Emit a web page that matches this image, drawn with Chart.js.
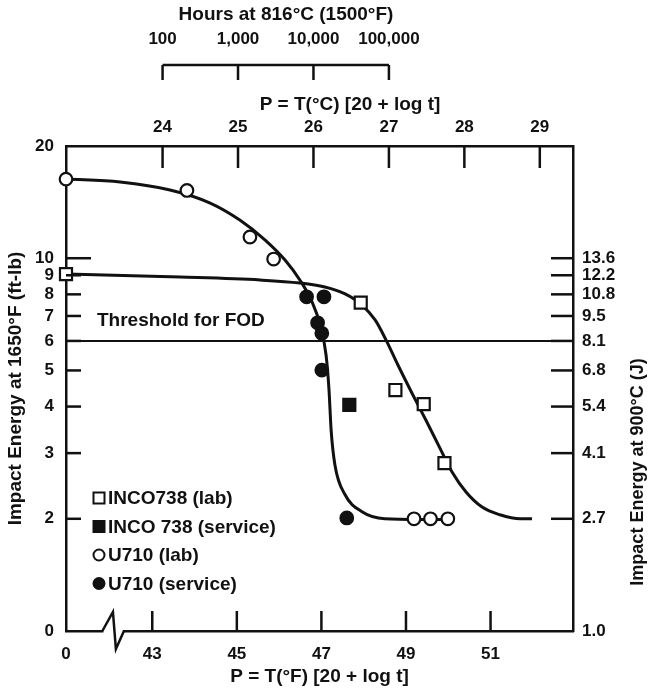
<!DOCTYPE html>
<html>
<head>
<meta charset="utf-8">
<script src="https://cdn.jsdelivr.net/npm/chart.js@4.4.1/dist/chart.umd.min.js"></script>
<style>
  html, body { margin: 0; padding: 0; background: #fff; }
  #wrap { width: 649px; height: 688px; }
</style>
</head>
<body>
<div id="wrap"><canvas id="chart" width="649" height="688"></canvas></div>
<script>
// impact energy vs Larson-Miller parameter, INCO 738 and U710

// broken bottom axis: the "0" sits at the left edge
const ZERO = 40.96;
const X_MAX = 52.95;
const C_MIN = 22.72;
const C_MAX = 29.44;

// tick values / labels
const xTicks = [ZERO, 43, 45, 47, 49, 51];
const xLabels = ["0", "43", "45", "47", "49", "51"];
const cTicks = [24, 25, 26, 27, 28, 29];
const hourTicks = [24, 25, 26, 27];
const hourLabels = ["100", "1,000", "10,000", "100,000"];
const ftlbTicks = [1, 2, 3, 4, 5, 6, 7, 8, 9, 10, 20];
const ftlbLabels = ["0", "2", "3", "4", "5", "6", "7", "8", "9", "10", "20"];
const jouleTicks = [1, 2, 3, 4, 5, 6, 7, 8, 9, 10];
const jouleLabels = ["1.0", "2.7", "4.1", "5.4", "6.8", "8.1", "9.5", "10.8", "12.2", "13.6"];

// measured points
const incoLabX = [ZERO, 47.93, 48.75, 49.42, 49.91];
const incoLabY = [9.06, 7.6, 4.43, 4.06, 2.82];
const incoSvcX = [47.66];
const incoSvcY = [4.04];
const u710LabX = [ZERO, 43.82, 45.31, 45.87, 49.19, 49.58, 49.99];
const u710LabY = [16.3, 15.2, 11.4, 9.95, 2.0, 2.0, 2.0];
const u710SvcX = [46.65, 47.06, 46.91, 47.01, 47.01, 47.6];
const u710SvcY = [7.88, 7.88, 6.71, 6.29, 5.01, 2.01];

// fitted curves
const u710CurveX = [ZERO, 42.24, 43.42, 44.37, 45.07, 45.67, 46.14, 46.49, 46.78, 46.97, 47.11, 47.18, 47.23, 47.32, 47.56, 47.96, 48.5, 49.33, 49.99];
const u710CurveY = [16.31, 16.01, 15.24, 14.06, 12.66, 11.19, 9.89, 8.74, 7.63, 6.62, 5.5, 4.43, 3.46, 2.79, 2.32, 2.09, 2.0, 1.99, 1.99];
const incoCurveX = [ZERO, 43.66, 45.55, 46.49, 47.08, 47.56, 47.96, 48.27, 48.53, 48.81, 49.14, 49.47, 49.8, 50.09, 50.42, 50.8, 51.22, 51.7, 51.98];
const incoCurveY = [9.07, 8.9, 8.74, 8.58, 8.37, 8.02, 7.49, 6.83, 6.03, 5.17, 4.35, 3.68, 3.1, 2.67, 2.36, 2.15, 2.05, 2.0, 2.0];

const FOD = 6;

const INK = "#111";
const FONT = "'Liberation Sans', Arial, sans-serif";
Chart.defaults.font.family = FONT;
Chart.defaults.font.weight = "bold";
Chart.defaults.font.size = 17;
Chart.defaults.color = INK;

const pts = (xs, ys) => xs.map((x, i) => ({ x: x, y: ys[i] }));

function marker(label, xs, ys, style, filled, r) {
  return {
    label: label,
    data: pts(xs, ys),
    pointStyle: style,
    pointRadius: r,
    pointBorderWidth: 2.2,
    pointBorderColor: INK,
    pointBackgroundColor: filled ? INK : "#fff",
    showLine: false,
    clip: false,
    order: 0,
    isMarker: true,
  };
}

function curve(xs, ys) {
  return {
    data: pts(xs, ys),
    showLine: true,
    pointRadius: 0,
    borderColor: INK,
    borderWidth: 3,
    cubicInterpolationMode: "monotone",
    order: 2,
  };
}

const datasets = [
  marker("INCO738 (lab)", incoLabX, incoLabY, "rect", false, 8.5),
  marker("INCO 738 (service)", incoSvcX, incoSvcY, "rect", true, 8.5),
  marker("U710 (lab)", u710LabX, u710LabY, "circle", false, 6.3),
  marker("U710 (service)", u710SvcX, u710SvcY, "circle", true, 6.3),
  curve(u710CurveX, u710CurveY),
  curve(incoCurveX, incoCurveY),
  {
    data: pts([ZERO, X_MAX], [FOD, FOD]),
    showLine: true,
    pointRadius: 0,
    borderColor: INK,
    borderWidth: 2,
    order: 3,
  },
];

const setTicks = (vals) => (s) => { s.ticks = vals.map((v) => ({ value: v })); };

// inner tick marks, hours bracket, axis break, legend, labels
const decor = {
  id: "decor",
  afterDraw(chart) {
    const { ctx, chartArea: ca, scales } = chart;
    const x = scales.x, xc = scales.xc, xh = scales.xh, y = scales.y;
    ctx.save();
    ctx.strokeStyle = INK;
    ctx.lineWidth = 2.5;
    ctx.lineCap = "butt";

    const seg = (x0, y0, x1, y1) => {
      ctx.beginPath(); ctx.moveTo(x0, y0); ctx.lineTo(x1, y1); ctx.stroke();
    };

    xTicks.slice(1).forEach((v) => {
      const p = x.getPixelForValue(v);
      seg(p, ca.bottom, p, ca.bottom - 20);
    });
    cTicks.forEach((v) => {
      const p = xc.getPixelForValue(v);
      seg(p, ca.top, p, ca.top + 22);
    });
    ftlbTicks.forEach((v) => {
      if (v <= 1 || v >= 20) return;
      const p = y.getPixelForValue(v);
      seg(ca.left, p, ca.left + (v === 10 ? 25 : 15), p);
    });
    jouleTicks.forEach((v) => {
      if (v <= 1) return;
      const p = y.getPixelForValue(v);
      seg(ca.right, p, ca.right - 22, p);
    });

    // hours bracket
    const hx0 = xh.getPixelForValue(hourTicks[0]);
    const hx1 = xh.getPixelForValue(hourTicks[hourTicks.length - 1]);
    seg(hx0, 65, hx1, 65);
    hourTicks.forEach((v) => {
      const p = xh.getPixelForValue(v);
      seg(p, 65, p, 80);
    });

    // axis break on the bottom axis
    const b0 = x.getPixelForValue(41.82), b1 = x.getPixelForValue(42.07);
    const b2 = x.getPixelForValue(42.14), b3 = x.getPixelForValue(42.33);
    ctx.fillStyle = "#fff";
    ctx.fillRect(b0 + 1, ca.bottom - 3, b3 - b0 - 2, 6);
    ctx.lineJoin = "miter";
    ctx.beginPath();
    ctx.moveTo(b0, ca.bottom);
    ctx.lineTo(b1, ca.bottom - 19);
    ctx.lineTo(b2, ca.bottom + 18);
    ctx.lineTo(b3, ca.bottom);
    ctx.stroke();

    // threshold label
    ctx.fillStyle = INK;
    ctx.font = "bold 19px " + FONT;
    ctx.textAlign = "left";
    ctx.textBaseline = "middle";
    ctx.fillText("Threshold for FOD", ca.left + 31, y.getPixelForValue(FOD) - 20);

    // legend inside the plot
    const items = chart.data.datasets.filter((d) => d.isMarker);
    ctx.font = "bold 19px " + FONT;
    items.forEach((d, i) => {
      const cy = ca.bottom - 133 + i * 28.5;
      const cx = ca.left + 33;
      ctx.lineWidth = 2;
      ctx.fillStyle = d.pointBackgroundColor;
      ctx.strokeStyle = INK;
      ctx.beginPath();
      if (d.pointStyle === "rect") {
        ctx.rect(cx - 5.5, cy - 5.5, 11, 11);
      } else {
        ctx.arc(cx, cy, 5.5, 0, Math.PI * 2);
      }
      ctx.fill();
      ctx.stroke();
      ctx.fillStyle = INK;
      ctx.fillText(d.label, cx + 9, cy + 1);
    });

    // the two upper titles are off-centre in the original
    ctx.font = "bold 19px " + FONT;
    ctx.textAlign = "center";
    ctx.fillText("Hours at 816°C (1500°F)", 286, 15);
    ctx.fillText("P = T(°C) [20 + log t]", 350, 105);

    // right axis title reads bottom-to-top like the left one
    ctx.font = "bold 18px " + FONT;
    ctx.translate(638, 472);
    ctx.rotate(-Math.PI / 2);
    ctx.fillText("Impact Energy at 900°C (J)", 0, 0);
    ctx.restore();
  },
};

const noGrid = { display: false, drawTicks: false };
const frame = { display: true, color: INK, width: 2.5 };

new Chart(document.getElementById("chart"), {
  type: "scatter",
  data: { datasets: datasets },
  options: {
    responsive: false,
    animation: false,
    layout: { padding: 0 },
    plugins: { legend: { display: false }, tooltip: { enabled: false } },
    scales: {
      x: {
        type: "linear", position: "bottom", min: ZERO, max: X_MAX,
        afterBuildTicks: setTicks(xTicks),
        ticks: { callback: (v, i) => xLabels[i], padding: 13, maxRotation: 0, autoSkip: false },
        grid: noGrid, border: frame,
        title: { display: true, text: "P = T(°F) [20 + log t]", font: { size: 19 }, padding: { top: 0, bottom: 0 } },
        afterFit: (s) => { s.height = 57; },
      },
      xc: {
        type: "linear", position: "top", weight: 0, min: C_MIN, max: C_MAX,
        afterBuildTicks: setTicks(cTicks),
        ticks: { callback: (v) => String(v), padding: 8, maxRotation: 0, autoSkip: false },
        grid: noGrid, border: frame,
        title: { display: false },
        afterFit: (s) => { s.height = 56; },
      },
      xh: {
        type: "linear", position: "top", weight: 1, min: C_MIN, max: C_MAX,
        afterBuildTicks: setTicks(hourTicks),
        ticks: { callback: (v, i) => hourLabels[i], padding: 40, maxRotation: 0, autoSkip: false },
        grid: noGrid, border: { display: false },
        title: { display: false },
        afterFit: (s) => { s.height = 90; },
      },
      y: {
        type: "logarithmic", position: "left", min: 1, max: 20,
        afterBuildTicks: setTicks(ftlbTicks),
        ticks: { callback: (v, i) => ftlbLabels[i], padding: 12, autoSkip: false },
        grid: noGrid, border: frame,
        title: { display: true, text: "Impact Energy at 1650°F (ft-lb)", font: { size: 19 }, padding: { top: 4, bottom: 0 } },
        afterFit: (s) => { s.width = 66; },
      },
      y2: {
        type: "logarithmic", position: "right", min: 1, max: 20,
        afterBuildTicks: setTicks(jouleTicks),
        ticks: { callback: (v, i) => jouleLabels[i], padding: 9, autoSkip: false },
        grid: noGrid, border: frame,
        title: { display: false },
        afterFit: (s) => { s.width = 76; },
      },
    },
  },
  plugins: [decor],
});
</script>
</body>
</html>
